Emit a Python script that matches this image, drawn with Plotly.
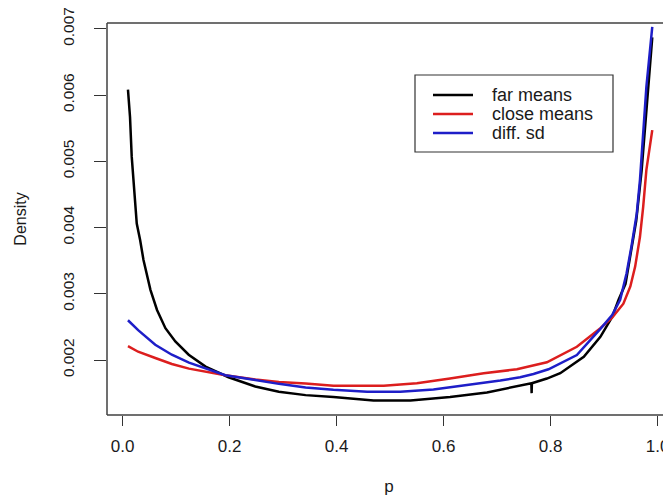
import plotly.graph_objects as go

# ---- data ----
p_far = [0.01, 0.0138, 0.017, 0.0215, 0.0264, 0.0327, 0.039, 0.052, 0.0643, 0.080,
         0.0985, 0.1235, 0.155, 0.198, 0.248, 0.292, 0.342, 0.394, 0.469, 0.538,
         0.612, 0.681, 0.706, 0.737, 0.764, 0.7645, 0.765, 0.793, 0.818, 0.862,
         0.893, 0.915, 0.927, 0.94, 0.95, 0.96, 0.97, 0.98, 0.99]
d_far = [0.00608, 0.00567, 0.00507, 0.00464, 0.00406, 0.00381, 0.00351, 0.00306, 0.002755, 0.00248,
         0.00228, 0.00208, 0.00190, 0.00174, 0.00160, 0.00152, 0.00147, 0.00144, 0.00139, 0.00139,
         0.00144, 0.00151, 0.00155, 0.00160, 0.00165, 0.00150, 0.00165, 0.00172, 0.00180, 0.00205,
         0.00235, 0.00265, 0.00291, 0.00315, 0.00360, 0.00410, 0.00485, 0.00580, 0.00687]

p_close = [0.01, 0.029, 0.061, 0.092, 0.124, 0.155, 0.192, 0.248, 0.292, 0.342,
           0.394, 0.488, 0.55, 0.612, 0.675, 0.737, 0.793, 0.849, 0.893, 0.915,
           0.936, 0.949, 0.958, 0.967, 0.973, 0.979, 0.99]
d_close = [0.00221, 0.002125, 0.00203, 0.00194, 0.00187, 0.00182, 0.00177, 0.001705, 0.00167, 0.001645,
           0.00161, 0.00161, 0.00165, 0.00172, 0.00180, 0.00186, 0.001965, 0.00220, 0.00248, 0.00264,
           0.00285, 0.00311, 0.00341, 0.00386, 0.00431, 0.00487, 0.00547]

p_sd = [0.01, 0.029, 0.061, 0.092, 0.124, 0.155, 0.192, 0.248, 0.292, 0.342,
        0.394, 0.457, 0.519, 0.581, 0.644, 0.706, 0.743, 0.768, 0.796, 0.849,
        0.893, 0.915, 0.930, 0.942, 0.951, 0.961, 0.967, 0.973, 0.979, 0.99]
d_sd = [0.00260, 0.00245, 0.00223, 0.00208, 0.00196, 0.00187, 0.00177, 0.00170, 0.00164, 0.001585,
        0.00155, 0.00152, 0.00152, 0.001555, 0.00162, 0.00169, 0.00174, 0.00179, 0.00186, 0.002075,
        0.00247, 0.00268, 0.00291, 0.00331, 0.00371, 0.00421, 0.00472, 0.00537, 0.006125, 0.00703]

series_names = ["far means", "close means", "diff. sd"]
series_colors = ["#000000", "#dc1e1e", "#1e1ec8"]

x_ticks = [0.0, 0.2, 0.4, 0.6, 0.8, 1.0]
x_ticklabels = ["0.0", "0.2", "0.4", "0.6", "0.8", "1.0"]
y_ticks = [0.002, 0.003, 0.004, 0.005, 0.006, 0.007]
y_ticklabels = ["0.002", "0.003", "0.004", "0.005", "0.006", "0.007"]

# ---- layout geometry (page body has an 8px margin) ----
OFF = 8
W, H = 671 - OFF, 500 - OFF
L, T = 107 - OFF, 23 - OFF
B = H - (415 - OFF)
R = 0
PW = W - L - R
PH = H - T - B


def px(x):
    """screen x (reference pixels) -> paper x"""
    return (x - OFF - L) / PW


def py(y):
    """screen y (reference pixels) -> paper y"""
    return (H - B - (y - OFF)) / PH


FONT = "Liberation Sans, Arial, Helvetica, sans-serif"
TXT = "#1a1a1a"

fig = go.Figure()
for name, xs, ys, col in zip(series_names, [p_far, p_close, p_sd], [d_far, d_close, d_sd], series_colors):
    fig.add_trace(go.Scatter(x=xs, y=ys, mode="lines", name=name,
                             line=dict(color=col, width=2.5), showlegend=False))

fig.update_layout(
    width=W, height=H,
    margin=dict(l=L, r=R, t=T, b=B, autoexpand=False),
    plot_bgcolor="white", paper_bgcolor="white",
    font=dict(family=FONT, color=TXT),
)
fig.update_xaxes(
    range=[-0.0292, 1.025], tickvals=x_ticks, ticktext=x_ticklabels,
    ticks="outside", ticklen=10, tickwidth=1.3, tickcolor="#333",
    showgrid=False, zeroline=False, showline=False, ticklabeloverflow="allow",
    tickfont=dict(size=17, family=FONT, color=TXT), ticklabelstandoff=6,
    title=dict(text="p", font=dict(size=17, family=FONT, color=TXT), standoff=24),
)
fig.update_yaxes(
    range=[0.001170, 0.007087], tickvals=y_ticks, ticktext=y_ticklabels,
    ticks="outside", ticklen=12, tickwidth=1.3, tickcolor="#333",
    showgrid=False, zeroline=False, showline=False, tickangle=-90, ticklabeloverflow="allow",
    tickfont=dict(size=15.5, family=FONT, color=TXT), ticklabelstandoff=14,
    title=dict(text="Density", font=dict(size=16, family=FONT, color=TXT), standoff=29),
)

shapes = []
frame = dict(type="line", xref="paper", yref="paper", line=dict(color="#404040", width=1.5))
shapes.append(dict(frame, x0=0, x1=0, y0=0, y1=1))
shapes.append(dict(frame, x0=0, x1=1, y0=0, y1=0))
shapes.append(dict(frame, x0=0, x1=1, y0=1, y1=1))

# legend box
shapes.append(dict(type="rect", xref="paper", yref="paper",
                   x0=px(415), x1=px(613), y0=py(152), y1=py(75),
                   line=dict(color="#333", width=1.2), fillcolor="white", layer="above"))
rows_y = [95, 114, 133]
annotations = []
for name, col, ry in zip(series_names, series_colors, rows_y):
    shapes.append(dict(type="line", xref="paper", yref="paper",
                       x0=px(433), x1=px(473), y0=py(ry), y1=py(ry),
                       line=dict(color=col, width=2.5), layer="above"))
    annotations.append(dict(xref="paper", yref="paper", x=px(490), y=py(ry),
                            xanchor="left", yanchor="middle", showarrow=False,
                            text=name, font=dict(size=18, family=FONT, color=TXT)))

fig.update_layout(shapes=shapes, annotations=annotations)
fig.write_html("out.html")
